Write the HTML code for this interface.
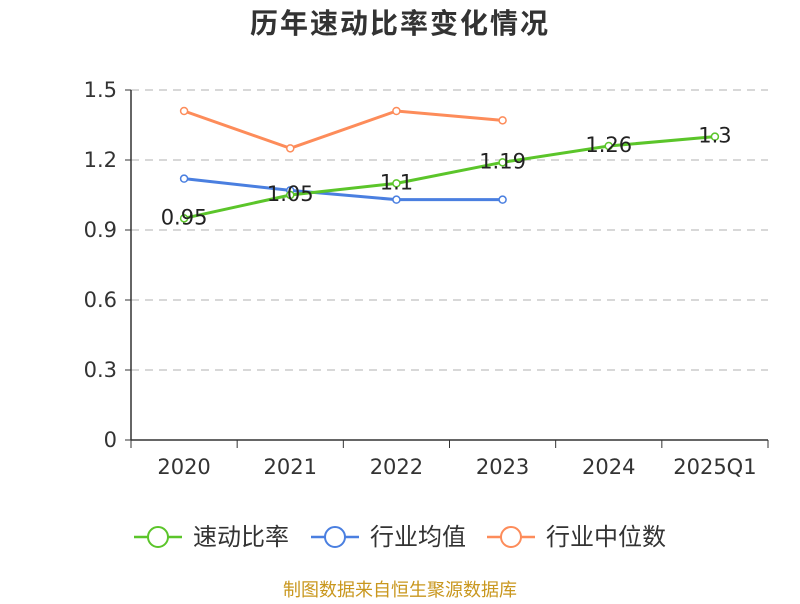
<!DOCTYPE html>
<html><head><meta charset="utf-8"><style>
body{margin:0;background:#fff;font-family:"DejaVu Sans","Noto Sans CJK SC",sans-serif;}
</style></head><body>
<svg width="800" height="600" xmlns="http://www.w3.org/2000/svg" font-family="DejaVu Sans, Noto Sans CJK SC, sans-serif">
<text x="400" y="33" text-anchor="middle" font-size="28" letter-spacing="2" font-weight="bold" fill="#333">历年速动比率变化情况</text>
<g id="grid"></g><g id="axes"></g><g id="series"></g>
<g id="legend"></g>
<text x="400" y="596" text-anchor="middle" font-size="18" fill="#c9971e">制图数据来自恒生聚源数据库</text>
</svg>
<script>
const categories=["2020","2021","2022","2023","2024","2025Q1"];
const quickRatio=[0.95,1.05,1.1,1.19,1.26,1.3];
const industryAvg=[1.12,1.07,1.03,1.03];
const industryMedian=[1.41,1.25,1.41,1.37];
const yTicks=[0,0.3,0.6,0.9,1.2,1.5];
const NS="http://www.w3.org/2000/svg";
const x0=131,x1=768,y0=440,y1=90,yMax=1.5;
const bw=(x1-x0)/categories.length;
const X=i=>x0+bw*(i+0.5);
const Y=v=>y0-(v/yMax)*(y0-y1);
function mk(t,a,p){const e=document.createElementNS(NS,t);for(const k in a)e.setAttribute(k,a[k]);p.appendChild(e);return e;}
const grid=document.getElementById('grid'),axes=document.getElementById('axes'),series=document.getElementById('series'),legend=document.getElementById('legend');
yTicks.forEach(v=>{
 if(v>0){const l=mk('line',{x1:x0,x2:x1,y1:Y(v),y2:Y(v),stroke:'#ccc','stroke-dasharray':'8,6','stroke-width':1.5},grid);
 
 }
 const t=mk('text',{x:x0-14,y:Y(v)+7,'text-anchor':'end','font-size':21,fill:'#333'},axes);t.textContent=String(v);
 
 
 mk('line',{x1:x0-6,x2:x0,y1:Y(v),y2:Y(v),stroke:'#333'},axes);
});
mk('line',{x1:x0,x2:x0,y1:y1,y2:y0,stroke:'#333','stroke-width':1.5},axes);
mk('line',{x1:x0,x2:x1,y1:y0,y2:y0,stroke:'#333','stroke-width':1.5},axes);
for(let i=0;i<=categories.length;i++)mk('line',{x1:x0+bw*i,x2:x0+bw*i,y1:y0,y2:y0+8,stroke:'#333'},axes);
categories.forEach((c,i)=>{const t=mk('text',{x:X(i),y:y0+34,'text-anchor':'middle','font-size':21,fill:'#333'},axes);t.textContent=c;
 
 });
function line(vals,color,name,labels){
 const g=mk('g',{},series);
 
 
 mk('polyline',{points:vals.map((v,i)=>X(i)+','+Y(v)).join(' '),fill:'none',stroke:color,'stroke-width':3},g);
 vals.forEach((v,i)=>{const c=mk('circle',{cx:X(i),cy:Y(v),r:3.5,fill:'#fff',stroke:color,'stroke-width':1.5},g);
  
  
  if(labels){const t=mk('text',{x:X(i),y:Y(v)+6,'text-anchor':'middle','font-size':21,fill:'#222'},g);t.textContent=String(v);
  
  }});
}
line(industryMedian,'#fd8c5a','industry-median-line',false);
line(industryAvg,'#4a7fe0','industry-avg-line',false);
line(quickRatio,'#5bc52a','quick-ratio-line',true);
const items=[["速动比率","#5bc52a",134],["行业均值","#4a7fe0",311],["行业中位数","#fd8c5a",487]];
items.forEach(([n,c,x])=>{const g=mk('g',{},legend);
 
 
 mk('line',{x1:x,x2:x+48,y1:537,y2:537,stroke:c,'stroke-width':2.5},g);
 mk('circle',{cx:x+24,cy:537,r:10,fill:'#fff',stroke:c,'stroke-width':2},g);
 const t=mk('text',{x:x+59,y:545,'font-size':24,fill:'#333'},g);t.textContent=n;});
</script>
</body></html>
